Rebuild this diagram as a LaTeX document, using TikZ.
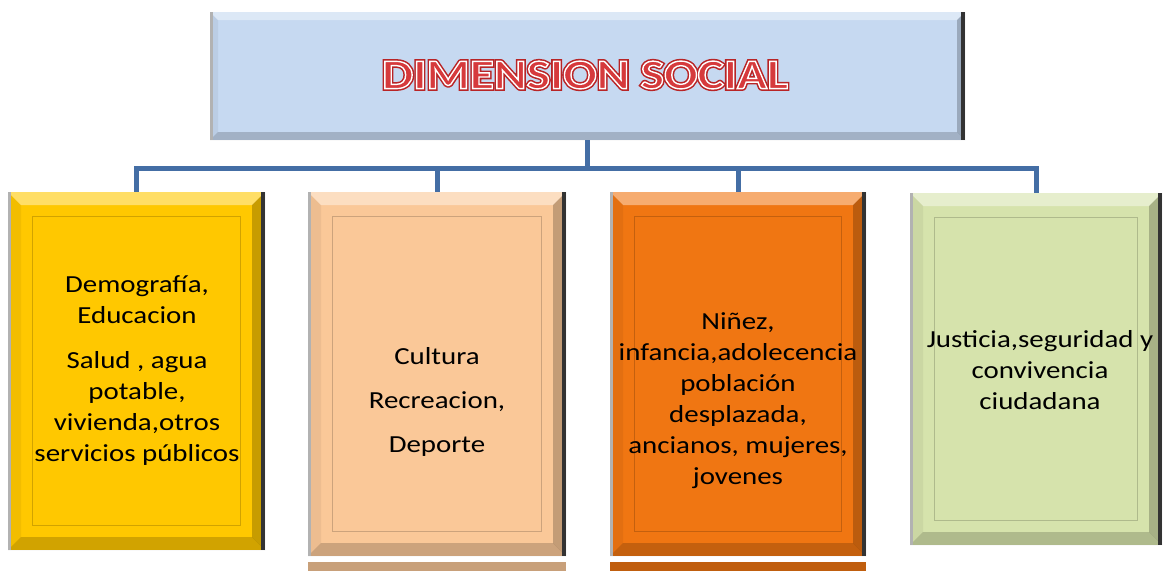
\documentclass[tikz,border=0pt]{standalone}
\usepackage{fontspec}
\setmainfont{Carlito}[FakeStretch=1.18]
\usetikzlibrary{calc}
\definecolor{TopBlue}{RGB}{198,217,241}
\definecolor{Gold}{RGB}{255,200,0}
\definecolor{Peach}{RGB}{250,200,152}
\definecolor{Pumpkin}{RGB}{240,118,18}
\definecolor{Sage}{RGB}{214,227,172}
\definecolor{BranchBlue}{RGB}{68,110,165}
\definecolor{TitleRed}{RGB}{214,58,60}
\tikzset{%
	% Style of the bevelled panel (fill colour, bevel width)
	Panel/.style n args={2}{rectangle,fill=#1,inner sep=0,
		path picture={
			\path (path picture bounding box.north west) coordinate (pNW)
				(path picture bounding box.south east) coordinate (pSE);
			\fill[white,opacity=0.4] (pNW) -- (pNW -| pSE) -- ($(pNW -| pSE)+(-#2,-#2)$) -- ($(pNW)+(#2,-#2)$) -- cycle;
			\fill[black,opacity=0.18] (pNW |- pSE) -- (pSE) -- ($(pSE)+(-#2,#2)$) -- ($(pNW |- pSE)+(#2,#2)$) -- cycle;
			\fill[black,opacity=0.22] (pNW -| pSE) -- (pSE) -- ($(pSE)+(-#2,#2)$) -- ($(pNW -| pSE)+(-#2,-#2)$) -- cycle;
			\fill[black,opacity=0.05] (pNW) -- (pNW |- pSE) -- ($(pNW |- pSE)+(#2,#2)$) -- ($(pNW)+(#2,-#2)$) -- cycle;
			\fill[gray!60] (pNW) rectangle ($(pNW |- pSE)+(2.5pt,0)$);
			\fill[black!80] ($(pNW -| pSE)+(-4.5pt,0)$) rectangle (pSE);
		}},
	% Style of the thin inner frame
	InnerFrame/.style={draw=black,draw opacity=0.18,line width=1pt},
	% Style of the panel text
	PanelText/.style={align=center,inner sep=0,font=\fontsize{24.5}{31}\selectfont},
	% Style of the title
	TitleText/.style={inner sep=0,text=TitleRed,font=\fontsize{42}{42}\selectfont\bfseries},
	% Style of the branch
	Connection/.style={draw=BranchBlue,line width=5pt},
}

\begin{document}
\begin{tikzpicture}[x=1pt,y=-1pt]
\useasboundingbox[fill=white] (0,0) rectangle (1163,571);

%~~~~~~~~~~~~~~~~~~~~~~~~~~~~~~~~~~~~~~~~~~~~~~~~~~
% Set Panels
%~~~~~~~~~~~~~~~~~~~~~~~~~~~~~~~~~~~~~~~~~~~~~~~~~~
\node[Panel={TopBlue}{8pt}, minimum width=755pt, minimum height=128pt] (Top) at (587.5, 76) {};
\node[TitleText] (TitleOut) at (585, 75) {\special{pdf:literal direct 2 Tr 4.5 w 0.72 0.14 0.15 RG}DIMENSION SOCIAL\special{pdf:literal direct 0 Tr 1 w}};
\node[TitleText] (TitleIn) at (585, 75) {\special{pdf:literal direct 2 Tr 1.4 w 1 1 1 RG}DIMENSION SOCIAL\special{pdf:literal direct 0 Tr 1 w}};

\node[Panel={Gold}{13pt}, minimum width=257pt, minimum height=358pt] (B1) at (136.5, 371) {};
\node[Panel={Peach}{13pt}, minimum width=258pt, minimum height=364pt] (B2) at (437, 374) {};
\node[Panel={Pumpkin}{13pt}, minimum width=256pt, minimum height=364pt] (B3) at (738, 374) {};
\node[Panel={Sage}{13pt}, minimum width=252pt, minimum height=352pt] (B4) at (1036, 369) {};

% inner frames
\draw[InnerFrame] ($(B1.north west)+(25,25)$) rectangle ($(B1.south east)+(-25,-25)$);
\draw[InnerFrame] ($(B2.north west)+(25,25)$) rectangle ($(B2.south east)+(-25,-25)$);
\draw[InnerFrame] ($(B3.north west)+(25,25)$) rectangle ($(B3.south east)+(-25,-25)$);
\draw[InnerFrame] ($(B4.north west)+(25,25)$) rectangle ($(B4.south east)+(-25,-25)$);

% panels cut off below
\fill[Peach!80!black] ($(B2.south west)+(0,6)$) rectangle ($(B2.south east)+(0,15)$);
\fill[Pumpkin!80!black] ($(B3.south west)+(0,6)$) rectangle ($(B3.south east)+(0,15)$);

%~~~~~~~~~~~~~~~~~~~~~~~~~~~~~~~~~~~~~~~~~~~~~~~~~~
% Set Texts
%~~~~~~~~~~~~~~~~~~~~~~~~~~~~~~~~~~~~~~~~~~~~~~~~~~
\node[PanelText] (T1) at (137, 371) {Demografía,\\Educacion\\[14pt]Salud , agua\\potable,\\vivienda,otros\\servicios públicos};
\node[PanelText, font=\fontsize{24.5}{44}\selectfont] (T2) at (437, 402) {Cultura\\Recreacion,\\Deporte};
\node[PanelText] (T3) at (738, 401) {Niñez,\\infancia,adolecencia\\población\\desplazada,\\ancianos, mujeres,\\jovenes};
\node[PanelText] (T4) at (1040, 370) {Justicia,seguridad y\\convivencia\\ciudadana};

%~~~~~~~~~~~~~~~~~~~~~~~~~~~~~~~~~~~~~~~~~~~~~~~~~~
% Set Branches
%~~~~~~~~~~~~~~~~~~~~~~~~~~~~~~~~~~~~~~~~~~~~~~~~~~
\coordinate (Hub) at ($(Top.south)+(0, 28)$);
\draw[Connection] (Top.south) -- (Hub);
\draw[Connection] (Hub) -| (B1.north);
\draw[Connection] (Hub) -| (B2.north);
\draw[Connection] (Hub) -| (B3.north);
\draw[Connection] (Hub) -| (B4.north);

\end{tikzpicture}
\end{document}
